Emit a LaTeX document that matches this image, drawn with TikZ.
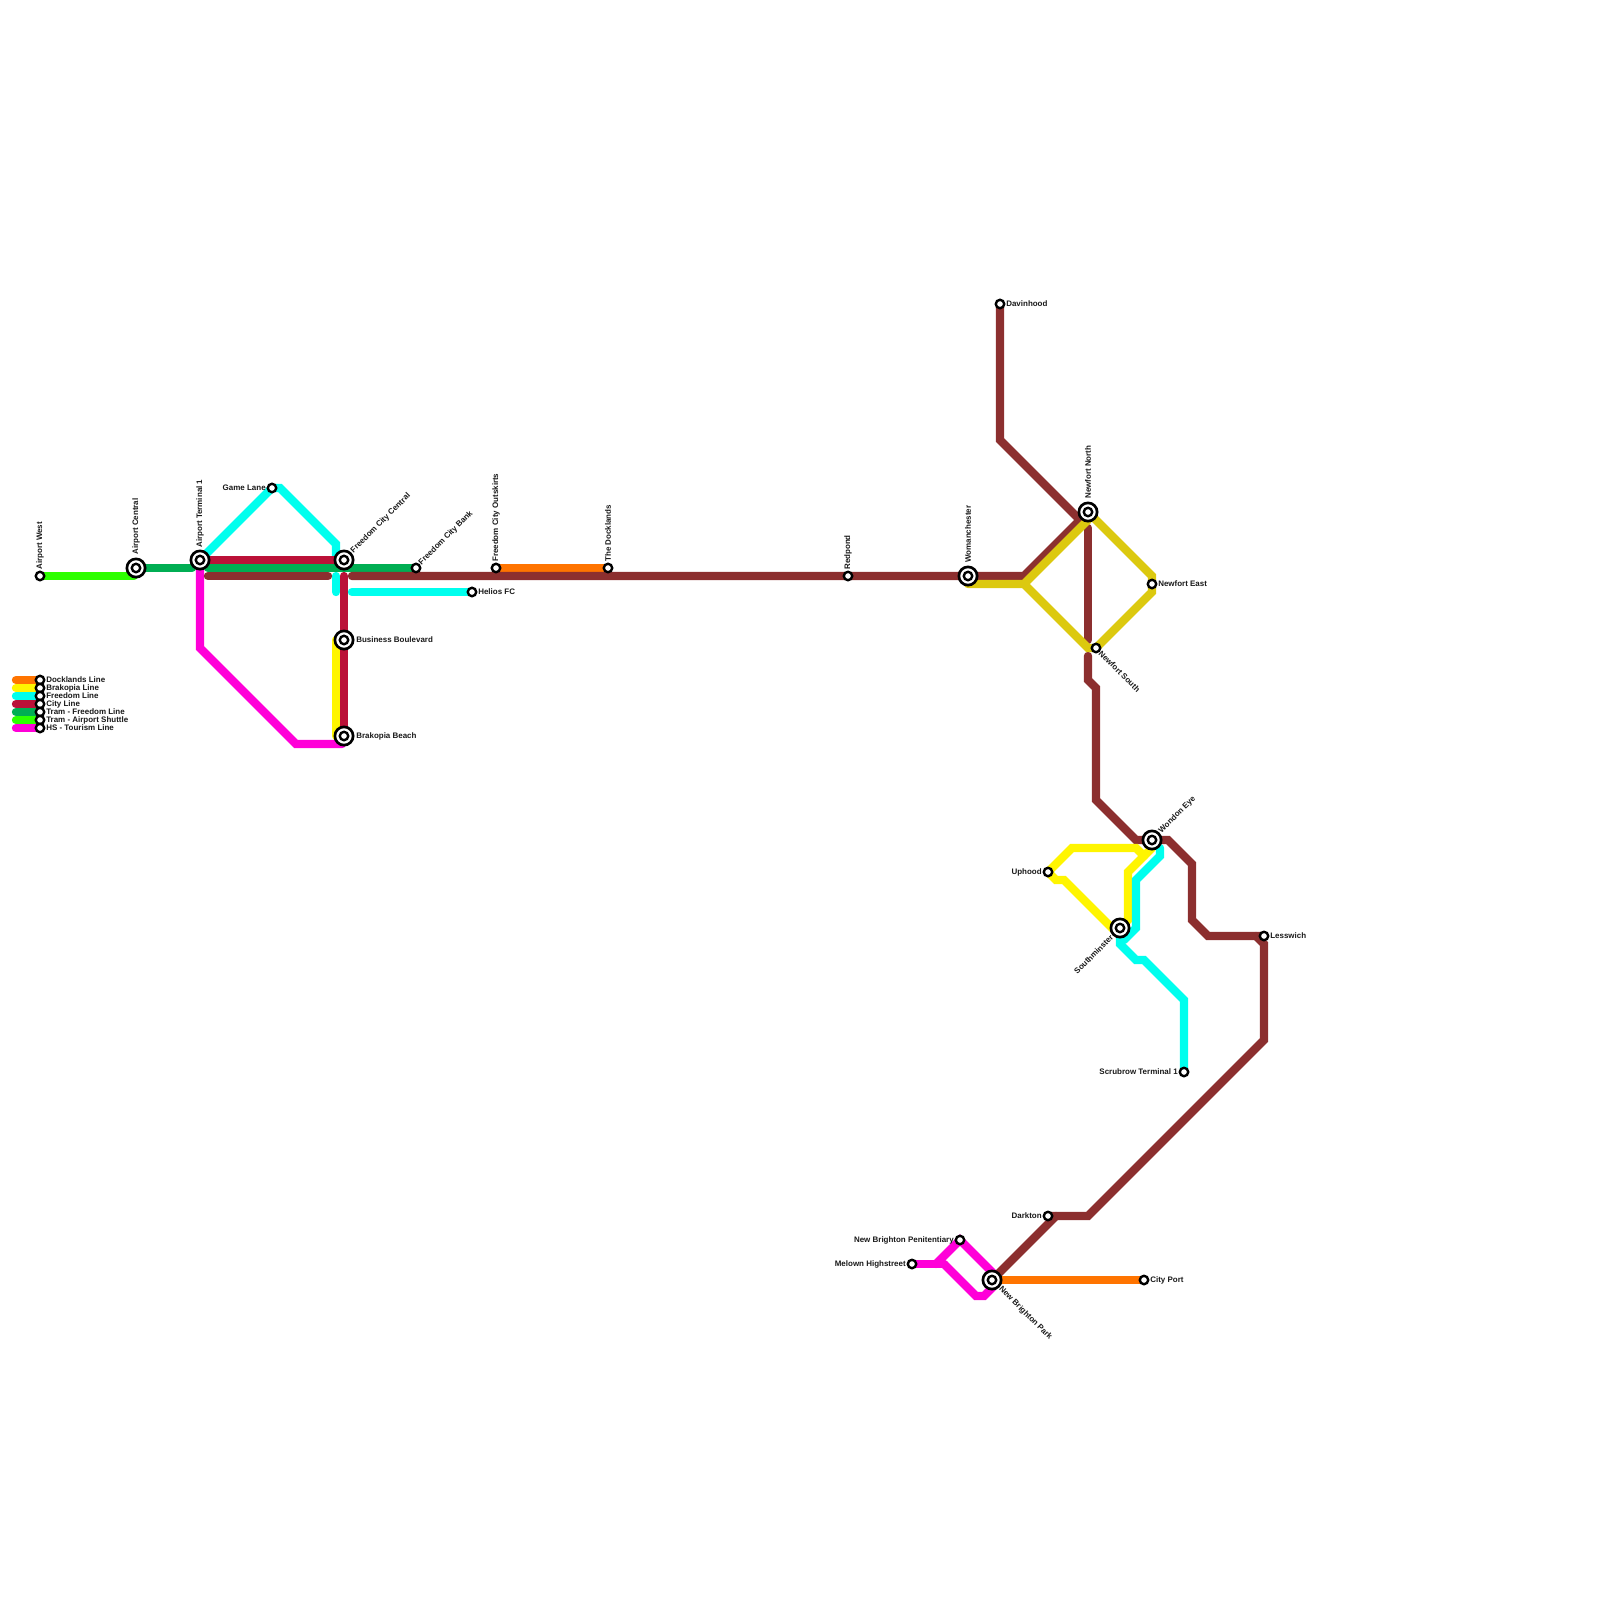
\documentclass[tikz,border=0pt]{standalone}
\usepackage{fontspec}
\setmainfont{Liberation Sans}
\usepackage{xcolor}
\usepackage{tikz}
\usetikzlibrary{calc}
\definecolor{docklands}{HTML}{FF7400}
\definecolor{brakopia}{HTML}{FFF500}
\definecolor{freedom}{HTML}{00FFEE}
\definecolor{cityline}{HTML}{BB1138}
\definecolor{tramfree}{HTML}{00AE53}
\definecolor{tramair}{HTML}{2DFF00}
\definecolor{tourism}{HTML}{FF00D8}
\definecolor{metro}{HTML}{8C2F2F}
\definecolor{newfort}{HTML}{DCC90F}

\begin{document}
\begin{tikzpicture}[
    x=0.025cm, y=-0.025cm,
    route/.style={line width=5.95pt, line cap=round, line join=miter, miter limit=2},
    stnsmall/.style={circle, draw=black, fill=white, line width=1.7pt, minimum size=6pt, inner sep=0pt},
    stnbig/.style={circle, draw=black, fill=white, line width=1.9pt, minimum size=13pt, inner sep=0pt},
    lbl/.style={font=\fontsize{5.67}{6.5}\selectfont\bfseries, inner sep=0pt, text=black!90},
  ]
  \useasboundingbox (0,0) rectangle (1600,1600);

  \foreach \n/\x/\y in {airwest/40/576, aircentral/136/568, terminal/200/560, gamelane/272/488,
      fccentral/344/560, fcbank/416/568, helios/472/592, outskirts/496/568, docks/608/568,
      redpond/848/576, womanch/968/576, davinhood/1000/304, nfnorth/1088/512, nfeast/1152/584,
      nfsouth/1096/648, business/344/640, beach/344/736, wondon/1152/840, uphood/1048/872,
      southmin/1120/928, lesswich/1264/936, scrubrow/1184/1072, darkton/1048/1216,
      penitent/960/1240, melown/912/1264, nbpark/992/1280, cityport/1144/1280}
    \coordinate (\n) at (\x,\y);

  % airport end
  \draw[route, tramair] (airwest) -- (134,576);
  \draw[route, tramfree] (aircentral) -- (192,568);
  \draw[route, freedom] (terminal) -- (gamelane) -- (280,488) -- (336,544) -- (336,556);
  \draw[route, freedom] (336,576) -- (336,592);
  \draw[route, freedom] (352,592) -- (helios);
  \draw[route, tourism] (terminal) -- (200,648) -- (296,744) -- (342,744);
  \draw[route, metro] (208,576) -- (328,576);
  \draw[route, brakopia] (336,640) -- (336,736);
  \draw[route, cityline] (terminal) -- (fccentral);
  \draw[route, cityline] (344,576) -- (beach);
  \draw[route, tramfree] (208,568) -- (fcbank);
  \draw[route, docklands] (outskirts) -- (docks);

  % main line and the north branch
  \draw[route, metro] (352,576) -- (1024,576) -- (1080,520);
  \draw[route, metro] (davinhood) -- (1000,440) -- (1080,520);
  \draw[route, metro] (1088,528) -- (1088,640);
  \draw[route, metro] (1088,656) -- (1088,680) -- (1096,688) -- (1096,800) -- (1136,840)
    -- (1168,840) -- (1192,864) -- (1192,920) -- (1208,936) -- (lesswich);
  \draw[route, metro] (1256,936) -- (1264,944) -- (1264,1040) -- (1088,1216) -- (darkton);
  \draw[route, metro] (1056,1216) -- (nbpark);
  \draw[route, newfort] (968,584) -- (1024,584) -- (1088,520);
  \draw[route, newfort] (1024,584) -- (1088,648) -- (nfsouth) -- (1152,592) -- (1152,576) -- (nfnorth);

  % south-east loop
  \draw[route, brakopia] (uphood) -- (1072,848) -- (1136,848) -- (1144,856);
  \draw[route, brakopia] (uphood) -- (1056,880) -- (1064,880) -- (1112,928) -- (southmin);
  \draw[route, brakopia] (southmin) -- (1128,920) -- (1128,872) -- (1152,848);
  \draw[route, freedom] (1160,848) -- (1160,856) -- (1136,880) -- (1136,928) -- (1124,940);
  \draw[route, freedom] (southmin) -- (1120,944) -- (1136,960) -- (1144,960) -- (1184,1000) -- (scrubrow);
  \draw[route, tourism] (melown) -- (944,1264);
  \draw[route, tourism] (936,1264) -- (penitent) -- (992,1272) -- (nbpark);
  \draw[route, tourism] (944,1264) -- (976,1296) -- (984,1296) -- (992,1288) -- (nbpark);
  \draw[route, docklands] (nbpark) -- (cityport);

  % key
  \foreach \y/\col in {680/docklands, 688/brakopia, 696/freedom, 704/cityline,
      712/tramfree, 720/tramair, 728/tourism}{
    \coordinate (keyend\y) at (16,\y);
    \coordinate (key\y) at (40,\y);
    \draw[route, \col] (keyend\y) -- (key\y);
  }
  \foreach \y/\txt in {680/Docklands Line, 688/Brakopia Line, 696/Freedom Line, 704/City Line,
      712/Tram - Freedom Line, 720/Tram - Airport Shuttle, 728/HS - Tourism Line}{
    \node[stnsmall] (key\y stn) at (key\y) {};
    \node[lbl, anchor=west] (key\y lbl) at (46,\y) {\txt};
  }

  \foreach \n in {aircentral, terminal, fccentral, womanch, nfnorth, business, beach, wondon, southmin, nbpark}{
    \node[stnbig] (\n ring) at (\n) {};
    \node[stnsmall] (\n stn) at (\n) {};
  }
  \foreach \n in {airwest, gamelane, fcbank, helios, outskirts, docks, redpond, davinhood, nfeast,
      nfsouth, uphood, lesswich, scrubrow, darkton, penitent, melown, cityport}
    \node[stnsmall] (\n stn) at (\n) {};

  % upright names
  \foreach \n/\txt/\gap in {airwest/Airport West/6, aircentral/Airport Central/13, terminal/Airport Terminal 1/12,
      outskirts/Freedom City Outskirts/6, docks/The Docklands/6, redpond/Redpond/6,
      womanch/Womanchester/13, nfnorth/Newfort North/13}
    \node[lbl, rotate=90, anchor=west] (\n lbl) at ($(\n)+(0,-\gap)$) {\txt};
  % names to the right
  \foreach \n/\txt/\gap in {helios/Helios FC/6, business/Business Boulevard/12, beach/Brakopia Beach/12,
      davinhood/Davinhood/6, nfeast/Newfort East/6, lesswich/Lesswich/6, cityport/City Port/6}
    \node[lbl, anchor=west] (\n lbl) at ($(\n)+(\gap,0)$) {\txt};
  % names to the left
  \foreach \n/\txt in {gamelane/Game Lane, uphood/Uphood, scrubrow/Scrubrow Terminal 1, darkton/Darkton,
      penitent/New Brighton Penitentiary, melown/Melown Highstreet}
    \node[lbl, anchor=east] (\n lbl) at ($(\n)+(-6,0)$) {\txt};
  % slanted names
  \node[lbl, rotate=45, anchor=west] (fccentral lbl) at ($(fccentral)+(8,-8)$) {Freedom City Central};
  \node[lbl, rotate=45, anchor=west] (fcbank lbl) at ($(fcbank)+(4,-4)$) {Freedom City Bank};
  \node[lbl, rotate=45, anchor=west] (wondon lbl) at ($(wondon)+(8,-8)$) {Wondon Eye};
  \node[lbl, rotate=45, anchor=east] (southmin lbl) at ($(southmin)+(-8,8)$) {Southminster};
  \node[lbl, rotate=-45, anchor=west] (nfsouth lbl) at ($(nfsouth)+(4,4)$) {Newfort South};
  \node[lbl, rotate=-45, anchor=west] (nbpark lbl) at ($(nbpark)+(8,8)$) {New Brighton Park};
\end{tikzpicture}
\end{document}
